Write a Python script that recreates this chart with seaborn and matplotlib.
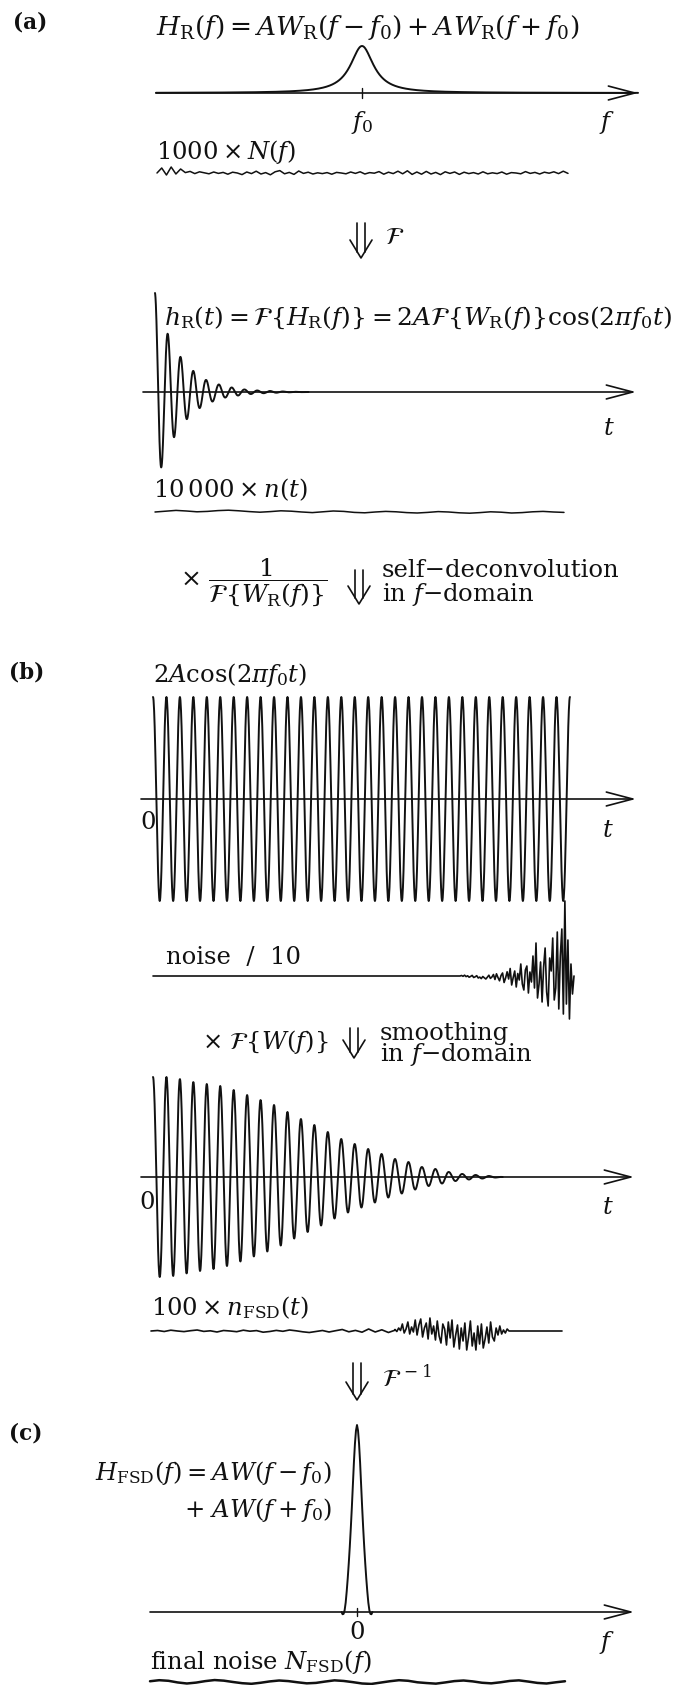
import numpy as np
import matplotlib
matplotlib.use("Agg")
import matplotlib.pyplot as plt
from matplotlib.lines import Line2D
import seaborn as sns

sns.set_theme(style="white")
plt.rcParams["font.family"] = ["DejaVu Serif", "DejaVu Sans"]
plt.rcParams["mathtext.fontset"] = "dejavuserif"

# ---------------------------------------------------------------- data
# (a) Lorentzian line W_R centred at f0 (frequency in units of f0)
F0 = 1.0
LORENTZ_HALF_WIDTH = 0.068
# h_R(t): peak amplitude (% of 2A) at each half period of cos(2*pi*f0*t)
HR_HALF_PEAKS = [99, 75, 58, 45, 35, 27, 21, 16, 12, 9.5, 7.5, 5.5, 4.5, 3.5,
                 2.5, 2.0, 1.5, 1.2, 1.0, 0.7, 0.5, 0.3, 0.2, 0.1, 0.0]
# (b) number of full cosine periods in the recorded signal
N_PERIODS = 31
# smoothed signal: peak amplitude (% of 2A) per period
B2_PEAKS = [100, 100, 98, 95, 93, 91, 87, 82, 77, 72, 65, 58, 52, 45, 38,
            33, 28, 23, 18, 15, 10, 8, 5, 3, 2, 1, 0]
# (c) smoothing line shape W(f) sampled every 0.005 f0 from the centre out
W_HALF_PROFILE = [1.00, 0.97, 0.90, 0.80, 0.68, 0.56, 0.45, 0.35, 0.26, 0.18,
                  0.11, 0.05, 0.01, -0.01, -0.012, 0.0]

# noise traces (arbitrary units, as plotted)
NOISE_F = [0, 2.5, -1.0, 3.0, -0.5, 2.0, 0.2, 0.8, -0.3, 0.6, 0.1, -0.4, 0.5,
           -0.2, 0.3, -0.6, 0.4, 0.0, -0.8, 0.5, -0.3, 0.9, -0.5, 0.2, -0.9,
           0.6, 1.2, -0.4, 0.3, -0.7, 1.0, -0.2, 0.4, -0.5, 0.1, -0.3, 0.2,
           -0.6, 0.3, 0.0, -0.4, 0.5, -0.2, 0.6, -0.5, 0.2, -0.1, 0.7, -0.6,
           0.4, -0.3, 0.9, -0.4, 1.1, -0.7, 0.5, -0.6, 0.8, -0.5, 0.3, -0.8,
           0.6, -0.2, 0.5, -0.7, 0.4, -0.3, 0.2, -0.5, 0.6, -0.4, 0.1, -0.3,
           0.5, -0.6, 0.2, 0.0, -0.4, 0.7, -0.2, 0.3, -0.5, 0.4, -0.1, 0.6,
           -0.3, 0.9, -0.2]
NOISE_T = [0.0, 0.4, 0.8, 0.5, 0.1, 0.3, 0.7, 0.9, 0.6, 0.2, -0.1, 0.2, 0.6,
           0.4, 0.0, -0.3, 0.1, 0.5, 0.3, -0.2, -0.4, 0.0, 0.3, 0.1, -0.3,
           -0.5, -0.2, 0.2, 0.0, -0.4, -0.6, -0.3, 0.1, -0.1, -0.5, -0.3, 0.1,
           0.3, 0.0, -0.2]
NOISE10_TAIL = [0, 0.5, -0.3, 0.8, -0.6, 0.2, -1.2, -0.4, 0.6, -1.5, -0.8,
                0.3, -2.0, -1.1, -2.6, -0.5, -1.8, -3.0, -1.2, 0.8, -2.4, -1.0,
                1.5, -3.5, 2.2, -1.6, -4.8, 0.5, 3.0, -6.5, -2.0, 4.2, -3.0,
                7.5, -9.0, -1.5, 5.0, -11.0, 2.5, -4.0, 12.0, -8.0, -14.0, 6.0,
                10.0, -17.0, 4.0, -6.0, 20.0, -12.0, 33.0, -22.0, -8.0, 14.0,
                -26.0, 9.0, 28.0, -16.0, -30.0, 18.0, 5.0, 38.0, -24.0, -12.0,
                44.0, -33.0, 20.0, 47.0, -38.0, 75.0, -28.0, 36.0, -43.0, 12.0,
                -18.0, 0.0]
NFSD_LEAD = [0, 0.5, -0.5, 0.8, 0, -0.6, 0.3, 1.0, -0.4, 0.2, -1.0, 0.5, 0.0,
             -0.7, 0.8, -0.2, 0.4, -1.2, -0.5, 0.6, -0.3, 1.0, 0.2, -0.8, -1.5,
             -0.5, 0.5, -1.0, 0.3, 1.5, -0.8, 0.6, -1.2, 2.0, -1.0, 1.2, -1.5,
             0.8]
NFSD_BURST = [1.5, -0.5, 3, 0.5, 7, -2, 2, 9, -3, 4, -1, 11, -4, 6, 12, -6, 3,
              8, -8, 13, -3, 5, -9, 10, -5, -12, 7, 2, -14, 9, -7, 11, -16, -4,
              6, -18, 3, -10, 8, -19, -6, 10, -15, -2, -19, 5, -13, 7, -17, -8,
              4, -12, 9, -6, -10, 3, -4, 5, -3, 1, -2, 2, 0]
NFSD_FINAL = [0.5, 1.2, 0.8, -0.3, -1.0, -0.4, 0.6, 1.3, 0.9, 0.0, -0.8,
              -1.2, -0.5, 0.4, 1.0, 0.6, -0.2, -0.9, -0.6, 0.3, 1.1, 0.7,
              -0.1, -1.0, -1.3, -0.4, 0.5, 1.2, 0.8, -0.2, -0.7, -1.1, -0.3,
              0.6, 1.0, 0.4, -0.5, -0.9, -0.2, 0.7, 1.1, 0.3, -0.6, -1.0, -0.2,
              0.5]

# ---------------------------------------------------------------- layout
W, H = 690, 1685
fig = plt.figure(figsize=(W / 100, H / 100), dpi=100)
fig.patch.set_facecolor("white")
LW = 1.4
INK = "#111111"
FS = 17.5


def panel(origin, base, sx, sy, left, right, top, bottom):
    """Axes placed in pixel units; `origin`/`base` give where x=0/y=0 fall."""
    ax = fig.add_axes([left / W, 1 - bottom / H, (right - left) / W,
                       (bottom - top) / H])
    ax.set_xlim((left - origin) / sx, (right - origin) / sx)
    ax.set_ylim((base - bottom) / sy, (base - top) / sy)
    ax.set_axis_off()
    ax.patch.set_alpha(0)
    return ax


def curve(ax, x, y, lw=LW):
    sns.lineplot(x=np.asarray(x, float), y=np.asarray(y, float), ax=ax,
                 color=INK, linewidth=lw, sort=False, estimator=None)
    for ln in ax.lines:
        ln.set_clip_on(False)


def axis_arrow(ax, x0, x1):
    ax.annotate("", xy=(x1, 0), xytext=(x0, 0),
                arrowprops=dict(arrowstyle="->,head_length=1.9,head_width=0.5",
                                lw=1.2, color=INK, shrinkA=0, shrinkB=0,
                                mutation_scale=10), annotation_clip=False)


def label(x, y, s, size=FS, ha="left", va="center", weight="normal"):
    fig.text(x / W, 1 - y / H, s, fontsize=size, ha=ha, va=va, color=INK,
             fontweight=weight)


def down_arrow(xc, top, bottom):
    """Double-shafted downward arrow marking a transformation step."""
    seg = [([xc - 4, xc - 4], [top, bottom - 6]),
           ([xc + 4, xc + 4], [top, bottom - 6]),
           ([xc - 11, xc, xc + 11], [bottom - 18, bottom, bottom - 18])]
    for xs, ys in seg:
        fig.add_artist(Line2D([v / W for v in xs], [1 - v / H for v in ys],
                              color=INK, lw=1.2, transform=fig.transFigure))


# ---------------------------------------------------------------- (a)
label(13, 23, "(a)", 15.5, weight="bold")
label(156, 27, r"$H_{\rm R}(f) = AW_{\rm R}(f - f_0) + AW_{\rm R}(f + f_0)$", 19)

PX_F = 206.0
ax = panel(156, 93, PX_F, 47, 140, 650, 40, 104)
f = np.linspace(0, 2.34, 1200)
lor = LORENTZ_HALF_WIDTH ** 2 / ((f - F0) ** 2 + LORENTZ_HALF_WIDTH ** 2)
curve(ax, f, lor)
axis_arrow(ax, 0, 2.34)
ax.plot([F0, F0], [-5 / 47, 5 / 47], color=INK, lw=1.0, clip_on=False)
label(362, 123, r"$f_0$", FS, ha="center")
label(607, 123, r"$f$", FS, ha="center")

label(156, 152, r"$1000 \times N(f)$")
ax = panel(157, 173, 1, 2, 150, 580, 160, 186)
curve(ax, np.linspace(0, 411, len(NOISE_F)), NOISE_F, lw=1.1)

down_arrow(361, 223, 258)
label(385, 238, r"$\mathcal{F}$")

label(164, 318, r"$h_{\rm R}(t) = \mathcal{F}\{H_{\rm R}(f)\} = 2A\mathcal{F}\{W_{\rm R}(f)\}\cos(2\pi f_0 t)$", 18)

PERIOD_A = 12.8
ax = panel(155, 392, PERIOD_A, 1.0, 130, 650, 280, 480)
t_half = np.arange(len(HR_HALF_PEAKS)) / 2
t = np.linspace(0, t_half[-1], 1600)
hr = np.interp(t, t_half, HR_HALF_PEAKS) * np.cos(2 * np.pi * t)
curve(ax, t, hr)
axis_arrow(ax, (143 - 155) / PERIOD_A, (636 - 155) / PERIOD_A)
label(609, 428, r"$t$", FS, ha="center")

label(153, 490, r"$10\,000 \times n(t)$")
ax = panel(155, 512, 1, 2, 150, 575, 500, 524)
curve(ax, np.linspace(0, 409, len(NOISE_T)), NOISE_T, lw=1.1)

label(180, 583, r"$\times\ \dfrac{1}{\mathcal{F}\{W_{\rm R}(f)\}}$", 18)
down_arrow(359, 570, 604)
label(382, 570, "self\u2212deconvolution")
label(382, 595, r"in $f$" + "\u2212domain")

# ---------------------------------------------------------------- (b)
label(9, 673, "(b)", 15.5, weight="bold")
label(153, 675, r"$2A\cos(2\pi f_0 t)$")

PERIOD_B = 13.45
ax = panel(153, 799, PERIOD_B, 1.02, 130, 650, 690, 910)
t = np.linspace(0, N_PERIODS, N_PERIODS * 48 + 1)
curve(ax, t, 100 * np.cos(2 * np.pi * t))
axis_arrow(ax, (141 - 153) / PERIOD_B, (636 - 153) / PERIOD_B)
label(148, 822, "0", ha="center")
label(608, 830, r"$t$", FS, ha="center")

label(166, 957, "noise  /  10")
ax = panel(153, 976, PERIOD_B, 1, 130, 650, 890, 1025)
tail_t = np.linspace((460 - 153) / PERIOD_B, (574 - 153) / PERIOD_B,
                     len(NOISE10_TAIL))
nt = np.concatenate([[0.0], tail_t])
nv = np.concatenate([[0.0], NOISE10_TAIL])
curve(ax, nt, nv, lw=1.2)

label(202, 1042, r"$\times\ \mathcal{F}\{W(f)\}$")
down_arrow(354, 1028, 1058)
label(380, 1033, "smoothing")
label(380, 1055, r"in $f$" + "\u2212domain")

ax = panel(153, 1177, PERIOD_B, 1.0, 130, 650, 1065, 1290)
t_pk = np.arange(len(B2_PEAKS))
t = np.linspace(0, t_pk[-1], len(B2_PEAKS) * 48)
curve(ax, t, np.interp(t, t_pk, B2_PEAKS) * np.cos(2 * np.pi * t))
axis_arrow(ax, (141 - 153) / PERIOD_B, (634 - 153) / PERIOD_B)
label(147, 1202, "0", ha="center")
label(608, 1208, r"$t$", FS, ha="center")

label(151, 1308, r"$100 \times n_{\rm FSD}(t)$")
ax = panel(151, 1331, 1, 1, 140, 580, 1300, 1360)
lead_x = np.linspace(0, 244, len(NFSD_LEAD))
burst_x = np.linspace(244, 358, len(NFSD_BURST))
curve(ax, np.concatenate([lead_x, burst_x, [411]]),
      np.concatenate([NFSD_LEAD, NFSD_BURST, [0]]), lw=1.2)

down_arrow(357, 1363, 1400)
label(382, 1378, r"$\mathcal{F}^{\,-1}$")

# ---------------------------------------------------------------- (c)
label(9, 1433, "(c)", 15.5, weight="bold")
label(332, 1473, r"$H_{\rm FSD}(f) = AW(f - f_0)$", ha="right")
label(332, 1510, r"$+\ AW(f + f_0)$", ha="right")

ax = panel(357, 1612, PX_F, 187, 130, 650, 1410, 1625)
off = np.arange(len(W_HALF_PROFILE)) * 0.005
prof_x = np.concatenate([-off[::-1], off[1:]])
prof_y = np.concatenate([W_HALF_PROFILE[::-1], W_HALF_PROFILE[1:]])
curve(ax, prof_x, prof_y)
axis_arrow(ax, (150 - 357) / PX_F, (634 - 357) / PX_F)
ax.plot([0, 0], [-4 / 187, 4 / 187], color=INK, lw=1.0, clip_on=False)
label(357, 1632, "0", ha="center")
label(607, 1642, r"$f$", FS, ha="center")

label(150, 1662, r"final noise $N_{\rm FSD}(f)$")
ax = panel(150, 1682, 1, 1.5, 140, 580, 1672, 1685)
curve(ax, np.linspace(0, 415, len(NFSD_FINAL)), NFSD_FINAL, lw=1.8)

fig.savefig("out.png", dpi=100, facecolor="white")
